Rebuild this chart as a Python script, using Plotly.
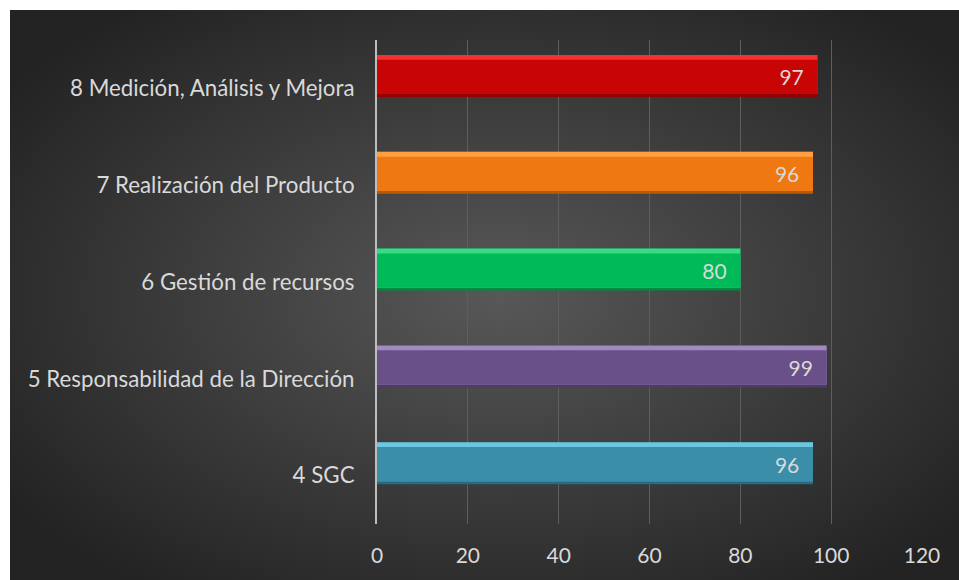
import plotly.graph_objects as go

# data, bottom to top as plotly draws categories
categories = ["4 SGC", "5 Responsabilidad de la Dirección", "6 Gestión de recursos",
              "7 Realización del Producto", "8 Medición, Análisis y Mejora"]
values = [96, 99, 80, 96, 97]
x_ticks = [0, 20, 40, 60, 80, 100, 120]

# colours per bar: body, top highlight, bottom shade
body_colors = ["#3a8ea8", "#6a5088", "#00ba58", "#f07812", "#c80404"]
light_colors = ["#6cc6e2", "#a08ac0", "#3ad988", "#ffa040", "#f43030"]
dark_colors = ["#2a6a80", "#4f3b68", "#008a42", "#bd5a00", "#940000"]

# radial gradient backdrop, like the office chart area
bg_svg = (
    "data:image/svg+xml;utf8,"
    "<svg xmlns='http://www.w3.org/2000/svg' viewBox='0 0 959 580' "
    "preserveAspectRatio='none' width='959' height='580'>"
    "<defs><radialGradient id='g' cx='51%' cy='49%' r='62%'>"
    "<stop offset='0%' stop-color='%23585858'/>"
    "<stop offset='100%' stop-color='%23232323'/>"
    "</radialGradient></defs>"
    "<rect width='959' height='580' fill='url(%23g)'/></svg>"
)

W, H = 959, 580
ml, mr, mt, mb = 377, 37, 40, 56
pw, ph = W - ml - mr, H - mt - mb

fig = go.Figure()

half = 0.217
shift = 0.128  # bars sit a little above the category labels
# shade (full size), highlight and body layered on top of each other
fig.add_trace(go.Bar(y=categories, x=values, orientation="h", base=0,
                     width=2 * half, offset=-half + shift,
                     marker=dict(color=dark_colors, line=dict(width=0)),
                     hoverinfo="skip", showlegend=False))
fig.add_trace(go.Bar(y=categories, x=values, orientation="h", base=0,
                     width=2 * half - 0.03, offset=-half + shift + 0.03,
                     marker=dict(color=light_colors, line=dict(width=0)),
                     hoverinfo="skip", showlegend=False))
fig.add_trace(go.Bar(y=categories, x=values, orientation="h", base=0,
                     width=2 * half - 0.08, offset=-half + shift + 0.03,
                     marker=dict(color=body_colors, line=dict(width=0)),
                     text=values, texttemplate="%{x}\u00a0\u00a0",
                     textposition="inside", insidetextanchor="end",
                     textfont=dict(color="#d9d9d9", size=21, family="Lato"),
                     cliponaxis=False, showlegend=False))

fig.update_layout(
    width=W, height=H,
    barmode="overlay",
    margin=dict(l=ml, r=mr, t=mt, b=mb),
    paper_bgcolor="white",
    plot_bgcolor="rgba(0,0,0,0)",
    font=dict(family="Lato", color="#d9d9d9"),
    # gradient image starts 10px in and runs a little past the right/bottom edges
    images=[dict(source=bg_svg, xref="paper", yref="paper",
                 x=(10 - ml) / pw, y=1 + (mt - 10) / ph,
                 sizex=W / pw, sizey=H / ph,
                 xanchor="left", yanchor="top", sizing="stretch",
                 layer="below")],
)

fig.update_xaxes(range=[0, 120], tickvals=x_ticks, showgrid=True,
                 gridcolor="#5e5e5e", gridwidth=1, zeroline=False,
                 showline=False, ticks="", ticklabelstandoff=17,
                 tickfont=dict(size=21, color="#d9d9d9", family="Lato"),
                 fixedrange=True)
fig.update_yaxes(showline=True, linecolor="#bdbdbd", linewidth=2,
                 showgrid=False, ticks="", ticklabelstandoff=16,
                 tickfont=dict(size=22.3, color="#d9d9d9", family="Lato"),
                 fixedrange=True)

# drop the default body margin (and any scrollbar) so the figure fills the window
fig.write_html("out.html", config={"displayModeBar": False},
               post_script="document.body.style.margin='0px';"
                           "document.body.style.overflow='hidden';")
